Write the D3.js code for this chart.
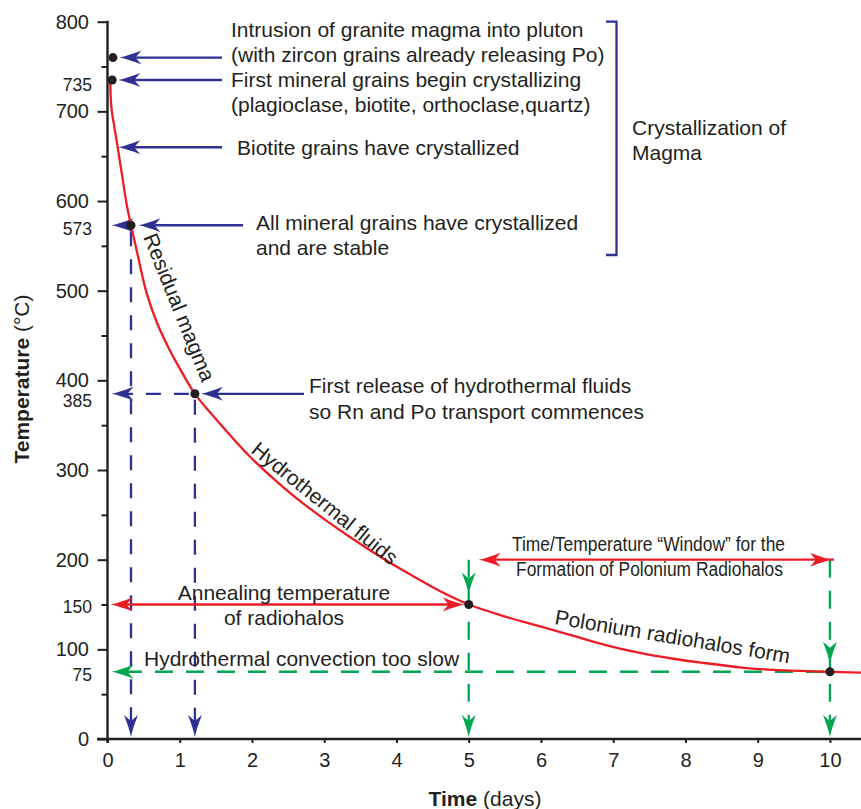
<!DOCTYPE html>
<html><head><meta charset="utf-8">
<script src="https://cdn.jsdelivr.net/npm/d3@7"></script>
<style>
body{margin:0;background:#fff;}
svg{display:block;font-family:"Liberation Sans",Arial,Helvetica,sans-serif;}
</style></head><body>
<svg id="chart" width="861" height="809"></svg>
<script>
// ---------------- data ----------------
const curveDays  = [0.04, 0.042, 0.058, 0.094, 0.143, 0.205, 0.266, 0.325, 0.426, 0.543, 0.696, 0.866, 1.037, 1.21, 1.51, 1.97, 2.43, 2.90, 3.36, 3.82, 4.21, 4.60, 5.00, 5.53, 5.99, 6.45, 6.91, 7.37, 7.83, 8.29, 8.75, 9.22, 10.00, 10.43];
const curveTemps = [735, 720, 701.5, 683, 659, 627, 596, 573, 537, 497, 462, 433, 408, 385, 356, 315, 281, 251, 225, 201, 182.5, 165, 150, 136, 125.5, 115, 104.5, 96, 89.5, 84.5, 80, 77, 75, 74];
const markerDays  = [0.075, 0.065, 0.325, 1.21, 5, 10];
const markerTemps = [760, 735, 573, 385, 150, 75];
const biotiteTemp = 660;
const windowTemp = 200;
const yMajorTicks = [0, 100, 200, 300, 400, 500, 600, 700, 800];
const yMinorTicks = [50, 150, 250, 350, 450, 550, 650, 750];
const ySpecialTicks = [735, 573, 385, 150, 75];
const xTicks = [0, 1, 2, 3, 4, 5, 6, 7, 8, 9, 10];
const topNotes = ["Intrusion of granite magma into pluton", "(with zircon grains already releasing Po)",
                  "First mineral grains begin crystallizing", "(plagioclase, biotite, orthoclase,quartz)"];
const biotiteNote = "Biotite grains have crystallized";
const stableNotes = ["All mineral grains have crystallized", "and are stable"];
const bracketNotes = ["Crystallization of", "Magma"];
const releaseNotes = ["First release of hydrothermal fluids", "so Rn and Po transport commences"];
const annealNotes = ["Annealing temperature", "of radiohalos"];
const convectionNote = "Hydrothermal convection too slow";
const windowNotes = ["Time/Temperature \u201cWindow\u201d for the", "Formation of Polonium Radiohalos"];
const curveLabels = ["Residual magma", "Hydrothermal fluids", "Polonium radiohalos form"];

// ---------------- setup ----------------
const INK = "#231f20", BLUE = "#2e3192", RED = "#ed1c24", GREEN = "#00a651";
const svg = d3.select("#chart");
const x = d3.scaleLinear().domain([0, 10.43]).range([107.5, 861]);
const y = d3.scaleLinear().domain([0, 800]).range([739, 21.7]);

function styleAxis(g, size) {
  g.attr("font-family", null).attr("font-size", null);
  g.select(".domain").remove();
  g.selectAll(".tick line").attr("stroke", INK).attr("stroke-width", 2);
  g.selectAll(".tick text").attr("fill", INK).style("font-size", size + "px");
}

// Y axis
const gy = svg.append("g").attr("transform", `translate(${x(0)},0)`);
gy.call(d3.axisLeft(y).tickValues(yMajorTicks).tickSize(10).tickPadding(8.5).tickFormat(d3.format("d")));
styleAxis(gy, 20);
const gyMinor = svg.append("g").attr("transform", `translate(${x(0)},0)`);
gyMinor.call(d3.axisLeft(y).tickValues(yMinorTicks).tickSize(6).tickFormat(() => ""));
styleAxis(gyMinor, 20);
const specialNudge = [5, 4, 8, 3, 3.5];
const gySpecial = svg.append("g").attr("transform", `translate(${x(0)},0)`);
gySpecial.call(d3.axisLeft(y).tickValues(ySpecialTicks).tickSize(0).tickPadding(15.5).tickFormat(d3.format("d")));
styleAxis(gySpecial, 17.5);
gySpecial.selectAll(".tick").attr("transform", (d, i) => `translate(0,${y(d) + specialNudge[i]})`);

// X axis
const gx = svg.append("g").attr("transform", `translate(0,${y(0)})`);
gx.call(d3.axisBottom(x).tickValues(xTicks).tickSize(4).tickPadding(10).tickFormat(d3.format("d")));
styleAxis(gx, 20);

// axis lines
svg.append("line").attr("x1", x(0)).attr("x2", x(0)).attr("y1", y(800) - 1).attr("y2", y(0) + 4)
  .attr("stroke", INK).attr("stroke-width", 2.4);
svg.append("line").attr("x1", x(0) - 10.5).attr("x2", 861).attr("y1", y(0)).attr("y2", y(0))
  .attr("stroke", INK).attr("stroke-width", 2.4);

// axis titles
const yt = svg.append("text").attr("transform", `translate(28.5,${379}) rotate(-90)`)
  .attr("text-anchor", "middle").attr("fill", INK).style("font-size", "21px");
yt.append("tspan").attr("font-weight", "bold").text("Temperature");
yt.append("tspan").text(" (\u00b0C)");
const xt = svg.append("text").attr("x", 485).attr("y", 806).attr("text-anchor", "middle")
  .attr("fill", INK).style("font-size", "21px");
xt.append("tspan").attr("font-weight", "bold").text("Time");
xt.append("tspan").text(" (days)");

// arrowhead helper: tip at (tx,ty), angle deg (0 = pointing left)
const HEAD_L = 22, HEAD_W = 7, HEAD_N = 16;
function head(tx, ty, angle, color) {
  svg.append("path")
    .attr("d", `M0,0 Q9,1.8 ${HEAD_L},${HEAD_W} L${HEAD_N},0 L${HEAD_L},${-HEAD_W} Q9,-1.8 0,0 Z`)
    .attr("transform", `translate(${tx},${ty}) rotate(${angle})`)
    .attr("fill", color);
}
function seg(x1, y1, x2, y2, color, dash) {
  const l = svg.append("line").attr("x1", x1).attr("y1", y1).attr("x2", x2).attr("y2", y2)
    .attr("stroke", color).attr("stroke-width", 2.3);
  if (dash) l.attr("stroke-dasharray", dash);
  return l;
}
const BDASH = "15,13", GDASH = "18,13";

// ---- blue dashed guides
const dAll = markerDays[2], tAll = markerTemps[2];
const dRel = markerDays[3], tRel = markerTemps[3];
seg(x(dAll), y(tAll) + 6, x(dAll), y(0) - 14, BLUE, BDASH);
head(x(dAll), y(0) - 2, -90, BLUE);
seg(x(dRel), y(tRel) + 6, x(dRel), y(0) - 14, BLUE, BDASH);
head(x(dRel), y(0) - 2, -90, BLUE);
seg(x(dRel) - 6, y(tRel), x(0) + 16, y(tRel), BLUE, BDASH);
head(x(0) + 4, y(tRel), 0, BLUE);
head(x(0) + 4, y(tAll), 0, BLUE);

// ---- green dashed guides
const d5 = markerDays[4], t150 = markerTemps[4];
const d10 = markerDays[5], t75 = markerTemps[5];
seg(x(d5), y(windowTemp), x(d5), y(0) - 14, GREEN, GDASH);
head(x(d5), y(t150) - 10, -90, GREEN);
head(x(d5), y(0) - 2, -90, GREEN);
seg(x(d10), y(windowTemp), x(d10), y(0) - 14, GREEN, GDASH);
head(x(d10), y(t75) - 8, -90, GREEN);
head(x(d10), y(0) - 2, -90, GREEN);
seg(x(d10) - 6, y(t75), x(0) + 16, y(t75), GREEN, GDASH);
head(x(0) + 4, y(t75), 0, GREEN);

// ---- red double arrows
seg(x(0) + 16, y(t150), x(d5) - 16, y(t150), RED);
head(x(0) + 3, y(t150), 0, RED);
head(x(d5) - 4, y(t150), 180, RED);
seg(x(d5) + 24, y(windowTemp), x(d10) + 4, y(windowTemp), RED);
head(x(d5) + 10, y(windowTemp), 0, RED);
head(x(d10) + 2, y(windowTemp), 180, RED);

// ---- cooling curve
const pts = curveDays.map((d, i) => [d, curveTemps[i]]);
svg.append("path").datum(pts)
  .attr("d", d3.line().x(d => x(d[0])).y(d => y(d[1])).curve(d3.curveCatmullRom.alpha(0.5)))
  .attr("fill", "none").attr("stroke", RED).attr("stroke-width", 2.3);

// ---- blue solid arrows from notes
const noteArrowTemps = [markerTemps[0], markerTemps[1], biotiteTemp, markerTemps[2], markerTemps[3]];
const noteArrowStart = [222, 222, 222, 243, 304];
const noteArrowTip = [x(markerDays[0]) + 6.5, x(markerDays[1]) + 6, x(0.148), x(markerDays[2]) + 7.5, x(markerDays[3]) + 6];
noteArrowTemps.forEach((t, i) => {
  seg(noteArrowStart[i], y(t), noteArrowTip[i] + 14, y(t), BLUE);
  head(noteArrowTip[i], y(t), 0, BLUE);
});

// ---- markers
svg.append("g").selectAll("circle").data(markerDays).join("circle")
  .attr("cx", d => x(d)).attr("cy", (d, i) => y(markerTemps[i])).attr("r", 4.5).attr("fill", INK);

// ---- text helper
function txt(s, tx, ty, opts = {}) {
  const t = svg.append("text").attr("x", tx).attr("y", ty).attr("fill", INK)
    .style("font-size", (opts.size || 21) + "px").text(s);
  if (opts.anchor) t.attr("text-anchor", opts.anchor);
  if (opts.rotate !== undefined) t.attr("transform", `rotate(${opts.rotate},${tx},${ty})`);
  if (opts.len) t.attr("textLength", opts.len).attr("lengthAdjust", "spacingAndGlyphs");
  if (opts.family) t.style("font-family", opts.family);
  return t;
}
txt(topNotes[0], 231, 36.5);
txt(topNotes[1], 231, 61.5);
txt(topNotes[2], 231, 86.5);
txt(topNotes[3], 231, 111.5);
txt(biotiteNote, 237, 154.5);
txt(stableNotes[0], 256, 230);
txt(stableNotes[1], 256, 255);
txt(bracketNotes[0], 632, 135);
txt(bracketNotes[1], 632, 160);
txt(releaseNotes[0], 309, 393);
txt(releaseNotes[1], 309, 418.5);
txt(annealNotes[0], 284, 600, {anchor: "middle"});
txt(annealNotes[1], 284, 625, {anchor: "middle"});
txt(convectionNote, 144, 666);
const narrow = '"Liberation Sans Narrow","Arial Narrow","Liberation Sans",Arial,sans-serif';
txt(windowNotes[0], 648.5, 551, {anchor: "middle", size: 20, len: 273, family: narrow});
txt(windowNotes[1], 649.5, 576, {anchor: "middle", size: 20, len: 267, family: narrow});
txt(curveLabels[0], 143, 237, {rotate: 68});
txt(curveLabels[1], 250, 452, {rotate: 39});
txt(curveLabels[2], 554, 624, {rotate: 9.5});

// ---- bracket
svg.append("path").attr("d", "M606,21.7 H616.5 V255 H606")
  .attr("fill", "none").attr("stroke", BLUE).attr("stroke-width", 2.3);
</script>
</body></html>
